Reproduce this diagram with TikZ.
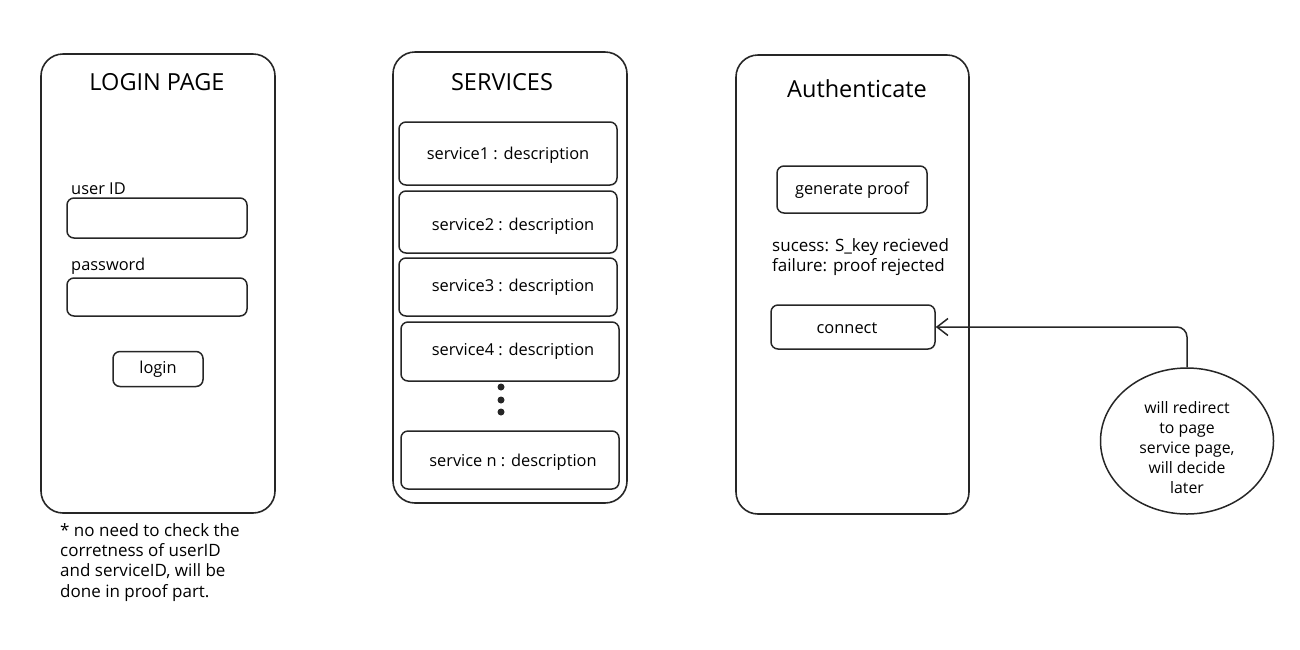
\documentclass[tikz,border=0pt]{standalone}
\usepackage{fontspec}
\setmainfont{Open Sans}
\usetikzlibrary{arrows.meta,shapes.geometric}
\begin{document}
\begin{tikzpicture}[x=1pt,y=-1pt,
  panel/.style={draw=black!85,line width=1.6pt,rounded corners=22pt,inner sep=0pt},
  fieldbox/.style={draw=black!85,line width=1.5pt,rounded corners=7pt,inner sep=0pt},
  lbl/.style={font=\fontsize{16.4}{19}\selectfont,inner sep=0pt},
  ttl/.style={font=\fontsize{23.5}{27}\selectfont,inner sep=0pt},
  dotmark/.style={circle,fill=black!85,inner sep=0pt,minimum size=7pt},
  conn/.style={draw=black!85,line width=1.5pt,rounded corners=10pt,-{Straight Barb[length=11pt,width=17pt,line width=1.5pt]}}
]
\useasboundingbox (0,0) rectangle (1300,649);
% Login panel
\node[panel,minimum width=234pt,minimum height=459pt] (login) at (158,283.5) {};
\node[ttl] (logintitle) at (157,82) {LOGIN PAGE};
\node[lbl,anchor=west] (uidlbl) at (71,189) {user ID};
\node[fieldbox,minimum width=180pt,minimum height=40pt] (uidbox) at (157,218) {};
\node[lbl,anchor=west] (pwlbl) at (71,266) {password};
\node[fieldbox,minimum width=180pt,minimum height=38pt] (pwbox) at (157,297) {};
\node[fieldbox,minimum width=90pt,minimum height=35pt,lbl,draw,line width=1.5pt] (loginbtn) at (158,369) {login};
\node[lbl,anchor=north west,align=left,font=\fontsize{17}{20.3}\selectfont] (note) at (60,523) {* no need to check the\\corretness of userID\\and serviceID, will be\\done in proof part.};
% Services panel
\node[panel,minimum width=234pt,minimum height=451pt] (services) at (510,277.5) {};
\node[ttl] (servtitle) at (502,82) {SERVICES};
\node[fieldbox,minimum width=218pt,minimum height=63pt] (s1) at (508,153.5) {};
\node[lbl] (s1t) at (508,155) {service1 : description};
\node[fieldbox,minimum width=218pt,minimum height=62pt] (s2) at (508,222) {};
\node[lbl] (s2t) at (513,226) {service2 : description};
\node[fieldbox,minimum width=218pt,minimum height=58pt] (s3) at (508,287) {};
\node[lbl] (s3t) at (513,287) {service3 : description};
\node[fieldbox,minimum width=218pt,minimum height=59pt] (s4) at (510,351.5) {};
\node[lbl] (s4t) at (513,351) {service4 : description};
\node[dotmark] (d1) at (501,387) {};
\node[dotmark] (d2) at (501,400) {};
\node[dotmark] (d3) at (501,412) {};
\node[fieldbox,minimum width=218pt,minimum height=58pt] (sn) at (510,460) {};
\node[lbl] (snt) at (513,462) {service n : description};
% Authenticate panel
\node[panel,minimum width=233pt,minimum height=459pt] (auth) at (852.5,284.5) {};
\node[ttl] (authtitle) at (857,89) {Authenticate};
\node[fieldbox,minimum width=150pt,minimum height=47pt] (gen) at (852,189.5) {};
\node[lbl] (gent) at (852,190) {generate proof};
\node[lbl,anchor=west,align=left,font=\fontsize{17}{20}\selectfont] (status) at (772,257) {sucess: S\_key recieved\\failure: proof rejected};
\node[fieldbox,minimum width=164pt,minimum height=44pt] (connect) at (853,327) {};
\node[lbl] (connt) at (847,328) {connect};
% Circle
\node[ellipse,draw=black!85,line width=1.5pt,minimum width=173pt,minimum height=146pt,inner sep=0pt] (circ) at (1187,441) {};
\node[lbl,align=center,font=\fontsize{15.8}{20}\selectfont] (circt) at (1187,448) {will redirect\\to page\\service page,\\will decide\\later};
\draw[conn] (circ.north) |- (connect.east);
\end{tikzpicture}
\end{document}
